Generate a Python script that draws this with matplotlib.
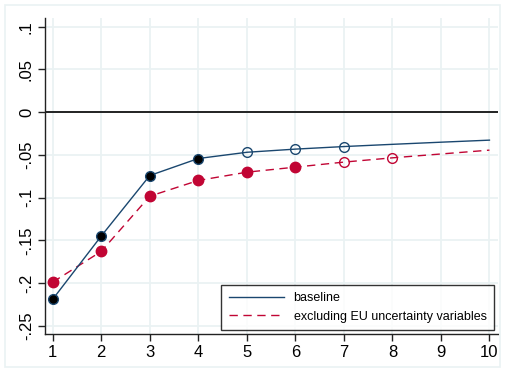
import matplotlib
matplotlib.use("Agg")
import matplotlib.pyplot as plt
from matplotlib.patches import Rectangle

plt.rcParams["font.family"] = ["Liberation Sans", "DejaVu Sans"]

horizon = [1, 2, 3, 4, 5, 6, 7, 8, 9, 10]
baseline = [-0.219, -0.145, -0.0742, -0.0543, -0.0470, -0.0433, -0.0403, -0.0377, -0.0352, -0.0328]
excl_eu = [-0.199, -0.163, -0.0984, -0.0800, -0.0703, -0.0644, -0.0585, -0.0535, -0.0490, -0.0445]

# which points are significant (filled) / shown hollow
base_filled = [1, 2, 3, 4]
base_hollow = [5, 6, 7]
excl_filled = [1, 2, 3, 4, 5, 6]
excl_hollow = [7, 8]

yticks = [0.1, 0.05, 0, -0.05, -0.1, -0.15, -0.2, -0.25]
ytick_labels = [".1", ".05", "0", "-.05", "-.1", "-.15", "-.2", "-.25"]

navy = "#1a476f"
red = "#c10534"
grid_c = "#eaf2f3"

fig = plt.figure(figsize=(5.05, 3.72), dpi=100)
fig.patches.append(Rectangle((5 / 505, 5 / 372), 1 - 10 / 505, 1 - 10 / 372,
                             transform=fig.transFigure, fill=False,
                             edgecolor=grid_c, linewidth=1.2))
ax = fig.add_axes([45 / 505, 1 - 333.7 / 372, 452.7 / 505, 315.7 / 372])

ax.set_xlim(0.84, 10.17)
ax.set_ylim(-0.2594, 0.1102)

for t in yticks:
    ax.axhline(t, color=grid_c, lw=1.3, zorder=0)
for t in horizon:
    ax.axvline(t, color=grid_c, lw=1.3, zorder=0)
ax.axhline(0, color="black", lw=1.2, zorder=1)

ax.plot(horizon, baseline, color=navy, lw=1.0, zorder=3, label="baseline")
ax.plot(horizon, excl_eu, color=red, lw=1.0, ls=(0, (6, 4)), zorder=2,
        label="excluding EU uncertainty variables")

def pick(xs, ys, keep):
    return [x for x in xs if x in keep], [y for x, y in zip(xs, ys) if x in keep]

x, y = pick(horizon, baseline, base_filled)
ax.plot(x, y, "o", ms=7, mfc="black", mec=navy, mew=1.0, zorder=5)
x, y = pick(horizon, baseline, base_hollow)
ax.plot(x, y, "o", ms=7, mfc="none", mec=navy, mew=1.0, zorder=5)
x, y = pick(horizon, excl_eu, excl_filled)
ax.plot(x, y, "o", ms=7.5, mfc=red, mec=red, mew=1.0, zorder=4)
x, y = pick(horizon, excl_eu, excl_hollow)
ax.plot(x, y, "o", ms=7, mfc="none", mec=red, mew=1.0, zorder=4)

ax.set_xticks(horizon)
ax.set_yticks(yticks)
ax.set_yticklabels(ytick_labels, rotation=90, va="center")
ax.tick_params(labelsize=12, length=5, width=1, color="#222222", pad=3)
for s in ["top", "right"]:
    ax.spines[s].set_visible(False)
for s in ["left", "bottom"]:
    ax.spines[s].set_color("#222222")
    ax.spines[s].set_linewidth(1.0)

leg = ax.legend(loc="lower right", bbox_to_anchor=(0.992, 0.0117), fontsize=9,
                frameon=True, fancybox=False, edgecolor="black",
                handlelength=4.4, borderpad=0.6, labelspacing=0.5,
                borderaxespad=0)
leg.get_frame().set_linewidth(1.0)

fig.savefig("out.png", dpi=100)
